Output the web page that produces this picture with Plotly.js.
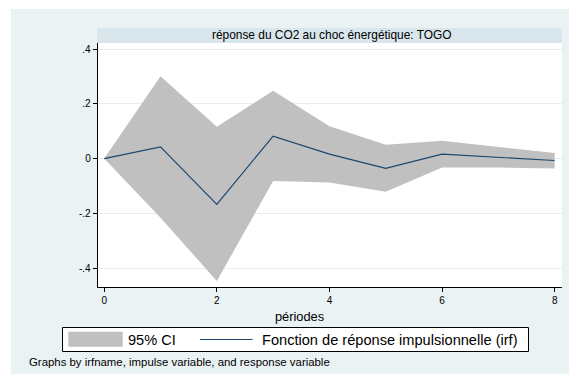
<!DOCTYPE html>
<html>
<head>
<meta charset="utf-8">
<script src="https://cdn.plot.ly/plotly-3.0.1.min.js"></script>
<style>
html,body{margin:0;padding:0;background:#ffffff;width:569px;height:374px;overflow:hidden;}
#chart{position:absolute;left:11px;top:9px;width:558px;height:365px;}
</style>
</head>
<body>
<div id="chart"></div>
<script>
// Data
var periods = [0, 1, 2, 3, 4, 5, 6, 7, 8];
var irf     = [0, 0.043, -0.167, 0.082, 0.016, -0.036, 0.016, 0.005, -0.007];
var ciUpper = [0, 0.301, 0.116, 0.248, 0.118, 0.050, 0.065, 0.042, 0.020];
var ciLower = [0, -0.216, -0.447, -0.082, -0.087, -0.121, -0.033, -0.033, -0.036];
var yTickVals = [-0.4, -0.2, 0, 0.2, 0.4];
var yTickText = ['-.4', '-.2', '0', '.2', '.4'];
var xTickVals = [0, 2, 4, 6, 8];

var panelTitle = 'réponse du CO2 au choc énergétique: TOGO';
var xTitle = 'périodes';
var legendCI = '95% CI';
var legendIRF = 'Fonction de réponse impulsionnelle (irf)';
var note = 'Graphs by irfname, impulse variable, and response variable';

// layout geometry (page pixels -> paper coords)
var divL = 11, divT = 9, W = 558, H = 365;
var mL = 87, mR = 7, mT = 34, mB = 87;
var plotL = divL + mL, plotW = W - mL - mR;
var plotB = divT + H - mB, plotH = H - mT - mB;
function px(x){ return (x - plotL) / plotW; }
function py(y){ return (plotB - y) / plotH; }

var FONT = 'Liberation Sans, Arial, Helvetica, sans-serif';
var navy = '#1a476f';
var ciGray = '#c0c0c0';

var traces = [
  {x: periods, y: ciLower, type: 'scatter', mode: 'lines', line: {width: 0, color: ciGray}, showlegend: false, hoverinfo: 'skip'},
  {x: periods, y: ciUpper, type: 'scatter', mode: 'lines', fill: 'tonexty', fillcolor: ciGray, line: {width: 0, color: ciGray}, showlegend: false, hoverinfo: 'skip'},
  {x: periods, y: irf, type: 'scatter', mode: 'lines', line: {width: 1.2, color: navy}, showlegend: false}
];

var layout = {
  width: W, height: H,
  margin: {l: mL, r: mR, t: mT, b: mB, pad: 0},
  paper_bgcolor: '#eaf2f3',
  plot_bgcolor: '#ffffff',
  showlegend: false,
  font: {family: FONT, color: '#000000'},
  xaxis: {
    range: [-0.11, 8.13], tickvals: xTickVals, ticktext: xTickVals.map(String),
    showgrid: false, zeroline: false, showline: true, linecolor: '#000000', linewidth: 1.3,
    ticks: 'outside', ticklen: 4, tickcolor: '#000000', tickwidth: 1,
    tickfont: {size: 10, family: FONT}
  },
  yaxis: {
    range: [-0.469, 0.422], tickvals: yTickVals, ticktext: yTickText,
    showgrid: true, gridcolor: '#e6eff0', gridwidth: 1, zeroline: false,
    showline: true, linecolor: '#000000', linewidth: 1.3,
    ticks: 'outside', ticklen: 4, tickcolor: '#000000', tickwidth: 1,
    tickfont: {size: 10, family: FONT}
  },
  shapes: [
    // title strip
    {type: 'rect', xref: 'paper', yref: 'paper', x0: px(97), x1: px(561.7), y0: py(43), y1: py(28), fillcolor: '#d9e6eb', line: {width: 0}, layer: 'below'},
    // legend box
    {type: 'rect', xref: 'paper', yref: 'paper', x0: px(62.5), x1: px(528.5), y0: py(351.5), y1: py(327.5), fillcolor: '#ffffff', line: {width: 1, color: '#000000'}},
    // CI swatch
    {type: 'rect', xref: 'paper', yref: 'paper', x0: px(68.3), x1: px(122.7), y0: py(346.7), y1: py(331.7), fillcolor: ciGray, line: {width: 0}},
    // irf line swatch
    {type: 'line', xref: 'paper', yref: 'paper', x0: px(200), x1: px(252.5), y0: py(339.5), y1: py(339.5), line: {width: 1.2, color: navy}}
  ],
  annotations: [
    {text: panelTitle, xref: 'paper', yref: 'paper', x: px(332), y: py(35.3), xanchor: 'center', yanchor: 'middle', showarrow: false, font: {size: 11.9, family: FONT, color: '#000000'}},
    {text: xTitle, xref: 'paper', yref: 'paper', x: px(299), y: py(316), xanchor: 'center', yanchor: 'middle', showarrow: false, font: {size: 12.8, family: FONT, color: '#000000'}},
    {text: legendCI, xref: 'paper', yref: 'paper', x: px(126), y: py(339.5), xanchor: 'left', yanchor: 'middle', showarrow: false, font: {size: 14.6, family: FONT, color: '#000000'}},
    {text: legendIRF, xref: 'paper', yref: 'paper', x: px(260), y: py(339.5), xanchor: 'left', yanchor: 'middle', showarrow: false, font: {size: 14.6, family: FONT, color: '#000000'}},
    {text: note, xref: 'paper', yref: 'paper', x: px(26.5), y: py(362.3), xanchor: 'left', yanchor: 'middle', showarrow: false, font: {size: 11.4, family: FONT, color: '#000000'}}
  ]
};

Plotly.newPlot('chart', traces, layout, {staticPlot: true, displayModeBar: false});
</script>
</body>
</html>
